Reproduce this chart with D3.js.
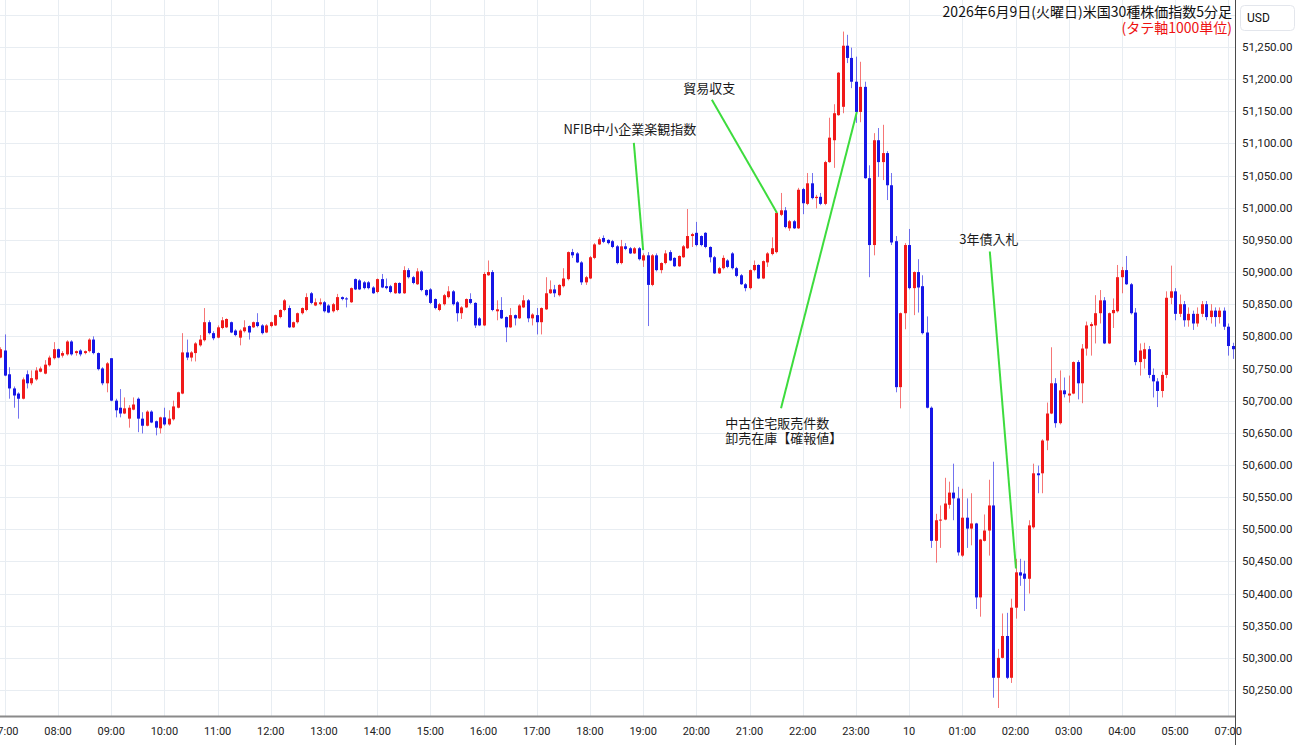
<!DOCTYPE html>
<html>
<head>
<meta charset="utf-8">
<script src="https://cdn.jsdelivr.net/npm/d3@7"></script>
<style>
  body { margin: 0; background: #fff; }
  svg { display: block; font-family: "Noto Sans CJK JP", "Noto Sans", sans-serif; }
</style>
</head>
<body>
<div id="price-chart"></div>
<script>
// 5-minute candles. First one is the last bar of the previous session (05:55),
// index 0 = 07:00 on the 9th, index 276 = 07:00 on the 10th.
const firstIndex = -1;

const opens = [
  50767,
  50778, 50741, 50719, 50711, 50703, 50741, 50727, 50733, 50745, 50742, 50755, 50766,
  50780, 50770, 50772, 50792, 50774, 50778, 50774, 50777, 50795, 50774, 50750, 50727,
  50766, 50700, 50689, 50680, 50672, 50686, 50703, 50672, 50661, 50683, 50668, 50657,
  50674, 50663, 50671, 50689, 50711, 50775, 50767, 50774, 50786, 50794, 50822, 50805,
  50798, 50813, 50814, 50822, 50809, 50798, 50808, 50816, 50814, 50822, 50817, 50806,
  50816, 50817, 50830, 50841, 50844, 50814, 50822, 50836, 50841, 50867, 50848, 50850,
  50853, 50848, 50839, 50841, 50861, 50859, 50853, 50889, 50887, 50884, 50884, 50876,
  50869, 50889, 50878, 50878, 50867, 50883, 50867, 50903, 50892, 50881, 50901, 50872,
  50873, 50858, 50841, 50850, 50861, 50870, 50853, 50836, 50845, 50858, 50852, 50828,
  50817, 50895, 50900, 50839, 50841, 50830, 50814, 50833, 50828, 50845, 50856, 50828,
  50833, 50822, 50842, 50867, 50873, 50864, 50878, 50889, 50931, 50929, 50915, 50884,
  50890, 50922, 50943, 50953, 50950, 50948, 50940, 50914, 50940, 50937, 50929, 50937,
  50918, 50926, 50880, 50926, 50903, 50914, 50931, 50922, 50909, 50923, 50937, 50956,
  50961, 50956, 50961, 50939, 50923, 50898, 50906, 50918, 50929, 50906, 50895, 50881,
  50875, 50903, 50911, 50890, 50915, 50928, 50931, 50989, 50996, 50968, 50979, 50968,
  51029, 51006, 51038, 51015, 51017, 51006, 51071, 51105, 51144, 51157, 51252, 51233,
  51196, 51149, 51188, 51046, 50942, 51105, 51071, 51085, 51035, 50948, 50721, 50836,
  50942, 50875, 50900, 50878, 50806, 50689, 50482, 50514, 50515, 50538, 50557, 50548,
  50459, 50518, 50501, 50509, 50394, 50482, 50498, 50537, 50269, 50300, 50334, 50269,
  50378, 50433, 50431, 50423, 50503, 50587, 50587, 50638, 50680, 50727, 50665, 50716,
  50708, 50711, 50760, 50727, 50781, 50816, 50817, 50836, 50856, 50789, 50836, 50839,
  50892, 50903, 50881, 50837, 50760, 50765, 50780, 50740, 50730, 50715, 50740, 50860,
  50870, 50835, 50850, 50825, 50835, 50820, 50835, 50850, 50830, 50840, 50830, 50840,
  50815, 50785
];

const highs = [
  50783,
  50803, 50752, 50722, 50713, 50736, 50747, 50747, 50752, 50753, 50763, 50770, 50791,
  50781, 50777, 50794, 50794, 50778, 50780, 50778, 50797, 50800, 50775, 50752, 50760,
  50766, 50703, 50718, 50705, 50693, 50705, 50705, 50682, 50685, 50685, 50669, 50675,
  50689, 50685, 50700, 50714, 50805, 50795, 50777, 50791, 50802, 50844, 50825, 50808,
  50817, 50830, 50828, 50823, 50811, 50811, 50825, 50817, 50823, 50836, 50819, 50819,
  50823, 50834, 50842, 50858, 50848, 50823, 50837, 50845, 50867, 50869, 50859, 50859,
  50855, 50850, 50852, 50866, 50862, 50861, 50876, 50890, 50889, 50886, 50886, 50878,
  50890, 50897, 50890, 50880, 50884, 50884, 50909, 50906, 50894, 50906, 50903, 50873,
  50875, 50859, 50852, 50866, 50878, 50872, 50855, 50847, 50859, 50867, 50853, 50830,
  50900, 50918, 50903, 50856, 50861, 50831, 50844, 50834, 50850, 50864, 50858, 50836,
  50844, 50845, 50892, 50887, 50880, 50881, 50906, 50932, 50936, 50931, 50917, 50894,
  50925, 50945, 50954, 50957, 50951, 50950, 50942, 50950, 50945, 50939, 50939, 50939,
  50929, 50931, 50928, 50929, 50915, 50934, 50934, 50923, 50926, 50942, 50998, 50961,
  50978, 50957, 50962, 50940, 50925, 50908, 50926, 50920, 50931, 50908, 50897, 50883,
  50904, 50918, 50912, 50918, 50931, 50954, 50993, 51023, 51001, 50981, 50981, 51031,
  51031, 51054, 51054, 51020, 51023, 51073, 51140, 51161, 51211, 51274, 51269, 51249,
  51235, 51227, 51196, 51066, 51116, 51124, 51129, 51088, 51054, 50956, 50837, 50945,
  50967, 50901, 50920, 50895, 50831, 50691, 50524, 50537, 50580, 50574, 50602, 50566,
  50563, 50548, 50556, 50510, 50485, 50523, 50577, 50605, 50314, 50369, 50370, 50392,
  50454, 50454, 50451, 50514, 50602, 50599, 50640, 50697, 50783, 50735, 50747, 50736,
  50739, 50761, 50763, 50788, 50823, 50822, 50864, 50872, 50861, 50837, 50859, 50911,
  50908, 50925, 50883, 50844, 50789, 50790, 50785, 50750, 50735, 50745, 50870, 50910,
  50875, 50865, 50855, 50845, 50840, 50845, 50855, 50855, 50850, 50845, 50845, 50845,
  50820, 50790
];

const lows = [
  50766,
  50738, 50703, 50689, 50672, 50702, 50719, 50724, 50731, 50744, 50741, 50753, 50764,
  50766, 50767, 50770, 50770, 50770, 50769, 50772, 50775, 50772, 50747, 50724, 50713,
  50699, 50674, 50674, 50679, 50658, 50685, 50651, 50649, 50660, 50665, 50646, 50649,
  50661, 50661, 50669, 50688, 50710, 50763, 50761, 50761, 50784, 50792, 50803, 50794,
  50797, 50811, 50813, 50805, 50800, 50786, 50806, 50795, 50813, 50814, 50803, 50805,
  50814, 50816, 50828, 50839, 50813, 50813, 50820, 50834, 50839, 50850, 50847, 50848,
  50837, 50836, 50837, 50839, 50856, 50845, 50852, 50872, 50872, 50873, 50873, 50866,
  50867, 50875, 50873, 50867, 50866, 50866, 50866, 50890, 50881, 50880, 50870, 50862,
  50850, 50842, 50839, 50848, 50859, 50848, 50823, 50827, 50844, 50850, 50813, 50816,
  50816, 50894, 50839, 50825, 50827, 50791, 50813, 50817, 50827, 50844, 50822, 50817,
  50803, 50803, 50841, 50866, 50861, 50862, 50876, 50887, 50922, 50914, 50880, 50880,
  50889, 50920, 50942, 50945, 50943, 50937, 50912, 50912, 50934, 50928, 50928, 50918,
  50908, 50816, 50878, 50901, 50898, 50912, 50917, 50908, 50908, 50922, 50936, 50939,
  50940, 50940, 50937, 50915, 50897, 50897, 50904, 50906, 50904, 50892, 50880, 50870,
  50873, 50901, 50889, 50889, 50908, 50926, 50929, 50987, 50968, 50964, 50967, 50967,
  50990, 51004, 51013, 50999, 51004, 51004, 51070, 51062, 51143, 51147, 51225, 51186,
  51132, 51133, 51045, 50892, 50926, 51048, 51043, 51012, 50942, 50713, 50688, 50811,
  50873, 50833, 50837, 50803, 50688, 50471, 50448, 50471, 50514, 50532, 50514, 50459,
  50457, 50471, 50475, 50376, 50364, 50481, 50459, 50238, 50222, 50299, 50267, 50261,
  50361, 50412, 50373, 50400, 50501, 50556, 50556, 50623, 50679, 50658, 50663, 50705,
  50697, 50710, 50702, 50696, 50770, 50770, 50789, 50820, 50788, 50788, 50813, 50837,
  50867, 50880, 50834, 50755, 50739, 50750, 50735, 50705, 50690, 50705, 50735, 50850,
  50825, 50830, 50815, 50815, 50810, 50815, 50830, 50825, 50820, 50815, 50820, 50810,
  50770, 50765
];

const closes = [
  50780,
  50739, 50719, 50708, 50703, 50733, 50727, 50735, 50747, 50750, 50756, 50767, 50780,
  50767, 50774, 50792, 50772, 50777, 50772, 50777, 50795, 50774, 50749, 50727, 50758,
  50700, 50685, 50680, 50688, 50689, 50694, 50672, 50661, 50683, 50666, 50658, 50674,
  50663, 50672, 50691, 50713, 50775, 50767, 50775, 50789, 50795, 50822, 50805, 50797,
  50814, 50825, 50827, 50806, 50802, 50809, 50814, 50806, 50822, 50816, 50805, 50817,
  50822, 50833, 50841, 50856, 50814, 50822, 50836, 50844, 50861, 50852, 50853, 50853,
  50839, 50837, 50850, 50861, 50858, 50858, 50875, 50873, 50873, 50875, 50875, 50867,
  50889, 50876, 50875, 50869, 50883, 50867, 50903, 50892, 50883, 50901, 50872, 50864,
  50852, 50844, 50850, 50864, 50870, 50850, 50836, 50845, 50858, 50852, 50817, 50817,
  50897, 50900, 50841, 50842, 50828, 50814, 50833, 50828, 50848, 50856, 50828, 50834,
  50822, 50844, 50867, 50873, 50867, 50880, 50890, 50931, 50926, 50915, 50884, 50892,
  50923, 50943, 50951, 50947, 50945, 50939, 50914, 50940, 50936, 50929, 50937, 50920,
  50926, 50880, 50926, 50903, 50914, 50929, 50918, 50909, 50925, 50940, 50956, 50959,
  50942, 50942, 50939, 50923, 50898, 50906, 50922, 50908, 50906, 50894, 50881, 50875,
  50903, 50911, 50890, 50917, 50929, 50937, 50992, 50996, 50970, 50979, 50968, 51028,
  51007, 51038, 51015, 51017, 51006, 51071, 51109, 51147, 51210, 51252, 51233, 51196,
  51149, 51188, 51046, 50942, 51105, 51071, 51085, 51035, 50946, 50721, 50836, 50942,
  50875, 50900, 50876, 50805, 50689, 50482, 50514, 50515, 50540, 50557, 50548, 50464,
  50518, 50501, 50509, 50394, 50484, 50498, 50537, 50269, 50300, 50334, 50269, 50378,
  50433, 50428, 50423, 50506, 50587, 50584, 50638, 50680, 50727, 50665, 50716, 50710,
  50711, 50760, 50727, 50781, 50817, 50819, 50836, 50856, 50789, 50836, 50841, 50892,
  50903, 50881, 50836, 50760, 50778, 50780, 50740, 50730, 50715, 50740, 50860, 50870,
  50835, 50850, 50825, 50835, 50820, 50835, 50850, 50830, 50840, 50830, 50840, 50815,
  50785, 50780
];

// one label per hour (06:00 is the session break, so it is skipped)
const hourLabels = ["07:00", "08:00", "09:00", "10:00", "11:00", "12:00", "13:00", "14:00",
  "15:00", "16:00", "17:00", "18:00", "19:00", "20:00", "21:00", "22:00", "23:00", "10",
  "01:00", "02:00", "03:00", "04:00", "05:00", "07:00"];
const priceTicks = d3.range(50250, 51251, 50);

const titleLines = ["2026年6月9日(火曜日)米国30種株価指数5分足", "(タテ軸1000単位)"];

// event notes: text position and leader line, in (candle index, price)
const notes = [
  {lines: ["NFIB中小企業楽観指数"], at: [141.0, 51121], anchor: "middle", from: [141.9, 51101], to: [144, 50934]},
  {lines: ["貿易収支"], at: [158.9, 51186], anchor: "middle", from: [159.5, 51168], to: [174.2, 50992]},
  {lines: ["中古住宅販売件数", "卸売在庫【確報値】"], at: [162.5, 50665], anchor: "start", from: [175.1, 50688], to: [192.2, 51149]},
  {lines: ["3年債入札"], at: [222.0, 50950], anchor: "middle", from: [222.2, 50932], to: [228.1, 50439]}
];

function drawChart() {
  const width = 1300, height = 745;
  const plotRight = 1235, plotBottom = 716;
  const upColor = "#f01a1a", downColor = "#1616e6";

  const svg = d3.select("#price-chart")
    .append("svg")
    .attr("width", width)
    .attr("height", height);

  svg.append("rect").attr("width", width).attr("height", height).attr("fill", "#fff");

  const x = d3.scaleLinear().domain([0, 276]).range([4.8, 1228.3]);
  const y = d3.scaleLinear().domain([50250, 51250]).range([690, 47]);

  svg.append("defs").append("clipPath").attr("id", "plot-clip")
    .append("rect").attr("x", 0).attr("y", 0).attr("width", plotRight).attr("height", plotBottom);

  // grid
  const grid = svg.append("g").attr("clip-path", "url(#plot-clip)");
  grid.selectAll(".hgrid")
    .data(d3.range(50200, 51351, 50))
    .enter()
    .append("line")
    .attr("x1", 0).attr("x2", plotRight)
    .attr("y1", d => Math.round(y(d)) + 0.5)
    .attr("y2", d => Math.round(y(d)) + 0.5)
    .attr("stroke", "#e8edf2");
  grid.selectAll(".vgrid")
    .data(hourLabels)
    .enter()
    .append("line")
    .attr("x1", (d, k) => Math.round(x(k * 12)) + 0.5)
    .attr("x2", (d, k) => Math.round(x(k * 12)) + 0.5)
    .attr("y1", 0).attr("y2", plotBottom)
    .attr("stroke", "#e8edf2");

  // candles
  const candles = opens.map((o, k) => ({i: firstIndex + k, o: o, h: highs[k], l: lows[k], c: closes[k]}));
  const colorOf = d => d.c >= d.o ? upColor : downColor;
  const plot = svg.append("g").attr("clip-path", "url(#plot-clip)");

  plot.selectAll(".wick")
    .data(candles)
    .enter()
    .append("line")
    .attr("x1", d => Math.round(x(d.i)) + 0.5)
    .attr("x2", d => Math.round(x(d.i)) + 0.5)
    .attr("y1", d => y(d.h))
    .attr("y2", d => y(d.l))
    .attr("stroke", colorOf)
    .attr("stroke-opacity", 0.6)
    .attr("stroke-width", 1);

  plot.selectAll(".body")
    .data(candles)
    .enter()
    .append("rect")
    .attr("x", d => Math.round(x(d.i)) - 1)
    .attr("y", d => y(Math.max(d.o, d.c)))
    .attr("width", 3)
    .attr("height", d => Math.max(1, Math.abs(y(d.o) - y(d.c))))
    .attr("fill", colorOf);

  // event notes
  const noteG = svg.append("g");
  noteG.selectAll(".note-line")
    .data(notes)
    .enter()
    .append("line")
    .attr("x1", d => x(d.from[0])).attr("y1", d => y(d.from[1]))
    .attr("x2", d => x(d.to[0])).attr("y2", d => y(d.to[1]))
    .attr("stroke", "#3ddc3d")
    .attr("stroke-width", 2);
  notes.forEach(n => {
    n.lines.forEach((t, j) => {
      noteG.append("text")
        .attr("x", x(n.at[0]))
        .attr("y", y(n.at[1]) + j * 15)
        .attr("dy", "0.35em")
        .attr("text-anchor", n.anchor)
        .attr("font-size", 13)
        .attr("fill", "#1a1a1a")
        .text(t);
    });
  });

  // title
  svg.append("text")
    .attr("x", 1232).attr("y", 17)
    .attr("text-anchor", "end")
    .attr("font-size", 14)
    .attr("fill", "#111")
    .text(titleLines[0]);
  svg.append("text")
    .attr("x", 1232).attr("y", 33)
    .attr("text-anchor", "end")
    .attr("font-size", 14)
    .attr("fill", "#ee1111")
    .text(titleLines[1]);

  // right price axis
  const axisFont = "Roboto, 'Liberation Sans', sans-serif";
  svg.append("line")
    .attr("x1", plotRight + 0.5).attr("x2", plotRight + 0.5)
    .attr("y1", 0).attr("y2", height)
    .attr("stroke", "#4a4a4a");
  svg.selectAll(".ylab")
    .data(priceTicks)
    .enter()
    .append("text")
    .attr("x", 1242)
    .attr("y", d => y(d))
    .attr("dy", "0.35em")
    .attr("font-family", axisFont)
    .attr("font-size", 11.5)
    .attr("fill", "#222")
    .text(d3.format(",.2f"));

  svg.append("rect")
    .attr("x", 1240.5).attr("y", 5.5).attr("width", 54).attr("height", 25).attr("rx", 4)
    .attr("fill", "#fff").attr("stroke", "#e3e6ec");
  svg.append("text")
    .attr("x", 1247).attr("y", 18).attr("dy", "0.35em")
    .attr("font-family", axisFont).attr("font-size", 12).attr("fill", "#111")
    .text("USD");

  // bottom time axis
  svg.append("line")
    .attr("x1", 0).attr("x2", plotRight)
    .attr("y1", plotBottom + 0.5).attr("y2", plotBottom + 0.5)
    .attr("stroke", "#8a8a8a").attr("stroke-width", 2);
  svg.selectAll(".xlab")
    .data(hourLabels)
    .enter()
    .append("text")
    .attr("x", (d, k) => x(k * 12))
    .attr("y", 731)
    .attr("dy", "0.35em")
    .attr("text-anchor", "middle")
    .attr("font-family", axisFont)
    .attr("font-size", 11)
    .attr("fill", "#222")
    .text(d => d);
}

drawChart();
</script>
</body>
</html>
